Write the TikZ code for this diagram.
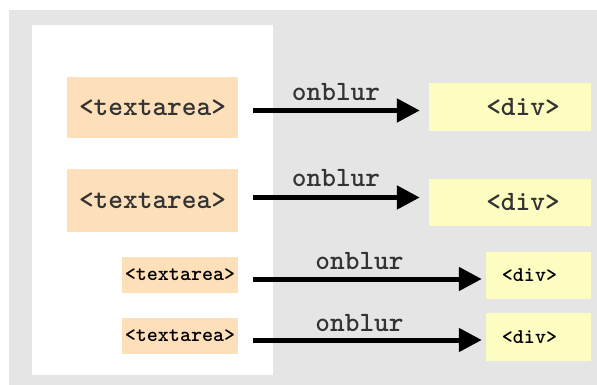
\documentclass[tikz,border=0pt]{standalone}
\usepackage{fontspec}
\usetikzlibrary{arrows.meta}
\definecolor{panelgrey}{HTML}{E5E5E5}
\definecolor{peach}{HTML}{FDDFBA}
\definecolor{paleyellow}{HTML}{FDFDC2}
\tikzset{
  areabox/.style={fill=peach, draw=none, inner sep=0pt},
  divbox/.style={fill=paleyellow, draw=none, inner sep=0pt},
  bigtxt/.style={font=\ttfamily\bfseries\fontsize{28}{30}\selectfont, inner sep=0pt, text=black!80},
  smalltxt/.style={font=\ttfamily\bfseries\fontsize{21}{23}\selectfont, inner sep=0pt, text=black},
  evt/.style={line width=5pt, -{Triangle[length=23pt,width=23pt]}},
}
\begin{document}
\begin{tikzpicture}[x=1pt,y=-1pt]
  % canvas and panels
  \fill[white] (0,0) rectangle (597,385);
  \useasboundingbox (0,0) rectangle (597,385);
  \fill[panelgrey] (9,10) rectangle (597,385);
  \fill[white] (32,25) rectangle (273,375);

  % source textareas
  \node[areabox, minimum width=171pt, minimum height=61pt] (t1) at (152.5,107.5) {};
  \node[bigtxt] at (t1.center) {<textarea>};
  \node[areabox, minimum width=171pt, minimum height=63pt] (t2) at (152.5,200.5) {};
  \node[bigtxt] at (t2.center) {<textarea>};
  \node[areabox, minimum width=116pt, minimum height=36pt] (t3) at (180,275) {};
  \node[smalltxt] at (t3.center) {<textarea>};
  \node[areabox, minimum width=116pt, minimum height=36pt] (t4) at (180,336) {};
  \node[smalltxt] at (t4.center) {<textarea>};

  % target divs
  \node[divbox, minimum width=162pt, minimum height=48pt] (d1) at (510,107) {};
  \node[bigtxt] (d1t) at (523,107) {<div>};
  \node[divbox, minimum width=162pt, minimum height=47pt] (d2) at (510,202.5) {};
  \node[bigtxt] (d2t) at (523,202.5) {<div>};
  \node[divbox, minimum width=105pt, minimum height=47pt] (d3) at (538.5,275.5) {};
  \node[smalltxt] (d3t) at (529.5,275.5) {<div>};
  \node[divbox, minimum width=105pt, minimum height=48pt] (d4) at (538.5,337) {};
  \node[smalltxt] (d4t) at (529.5,337) {<div>};

  % onblur connectors
  \draw[evt] ([xshift=15pt,yshift=-3pt]t1.east) -- ([xshift=-9pt,yshift=-3pt]t1.east -| d1.west);
  \node[bigtxt] (l1) at (336,92) {onblur};
  \draw[evt] ([xshift=15pt,yshift=3pt]t2.east) -- ([xshift=-9pt,yshift=3pt]t2.east -| d2.west);
  \node[bigtxt] (l2) at (336,178) {onblur};
  \draw[evt] ([xshift=15pt,yshift=-4pt]t3.east) -- ([xshift=-4pt,yshift=-4pt]t3.east -| d3.west);
  \node[bigtxt] (l3) at (359.5,261) {onblur};
  \draw[evt] ([xshift=15pt,yshift=-4pt]t4.east) -- ([xshift=-4pt,yshift=-4pt]t4.east -| d4.west);
  \node[bigtxt] (l4) at (359.5,323) {onblur};
\end{tikzpicture}
\end{document}
